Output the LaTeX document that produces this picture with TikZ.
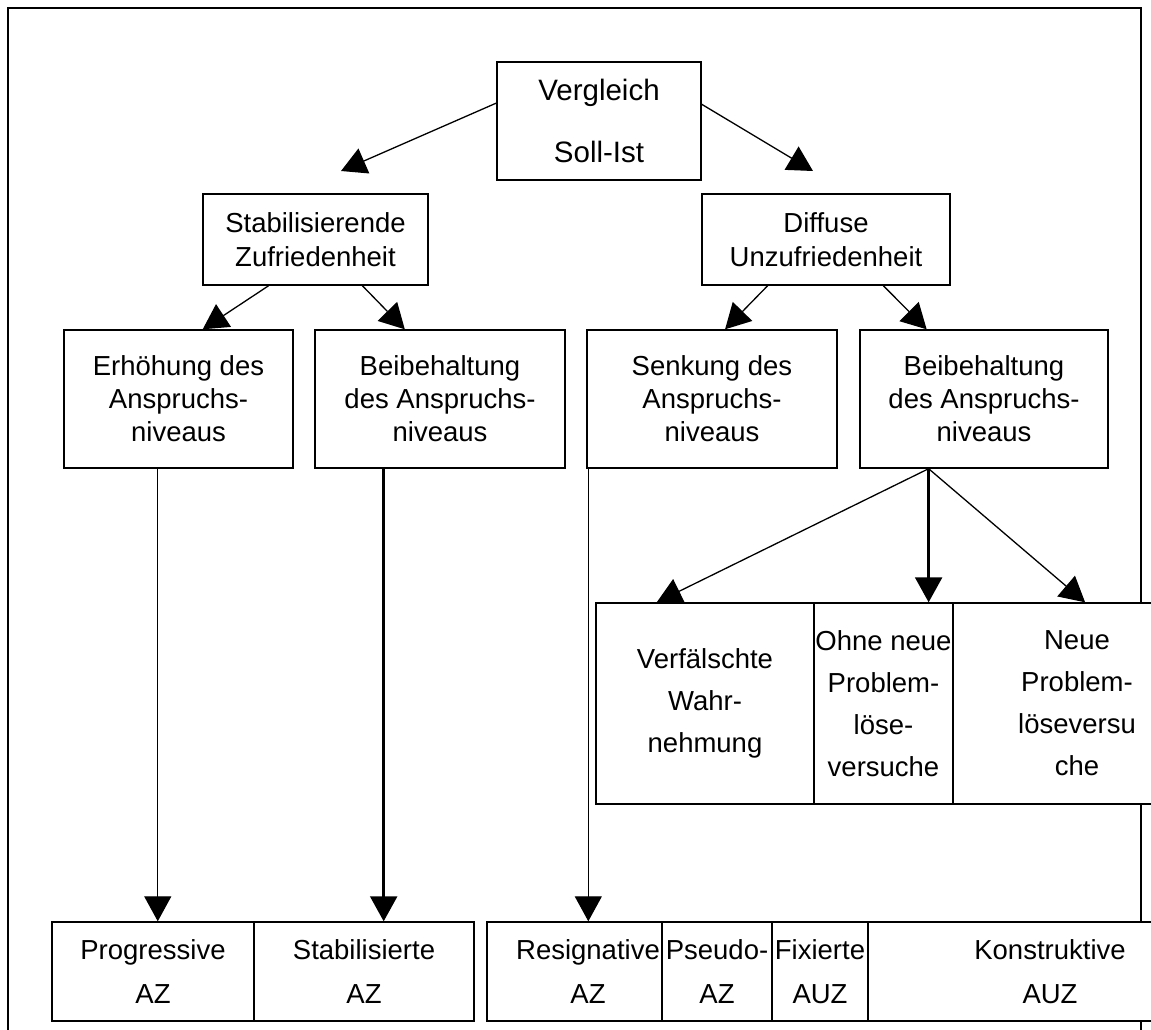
\documentclass[tikz,border=0pt]{standalone}
\usepackage{fontspec}
\setmainfont{Liberation Sans}
\usetikzlibrary{arrows.meta,calc}

% a framed cell (empty node) with its text set as a separate, named node
\newcommand\cellbox[9]{%
  \node[box, minimum width={(#4-#2)*1pt}, minimum height={(#5-#3)*1pt}]
    (#1) at ({(#2+#4)/2},{(#3+#5)/2}) {};
  \node[txt, font=\fontsize{#7}{#8}\selectfont] (#1-t) at ({#6},{(#3+#5)/2}) {#9};}

\begin{document}
\begin{tikzpicture}[x=1pt,y=-1pt,
  box/.style={draw, line width=1.4pt, fill=white, inner sep=0pt},
  txt/.style={inner sep=0pt, align=center},
  conn/.style={line width=1.3pt, -{Triangle[length=25pt,width=27pt]}},
  heavy/.style={conn, line width=2.4pt}]
\useasboundingbox (0,0) rectangle (1151,1030);
\clip (0,0) rectangle (1151,1030);
\fill[white] (0,0) rectangle (1151,1030);

% outer frame
\draw[line width=2.4pt] (8,8) rectangle (1141,1060);

% top
\cellbox{vgl}{497}{62}{701}{180}{599}{29.5}{62}{Vergleich\\Soll-Ist}

% second level
\cellbox{stab}{203}{194}{428}{285}{315.5}{27.5}{34}{Stabilisierende\\Zufriedenheit}
\cellbox{diff}{702}{194}{950}{285}{826}{27.5}{34}{Diffuse\\Unzufriedenheit}

% third level
\cellbox{erh}{64}{330}{293}{468}{178.5}{27.5}{33}{Erhöhung des\\Anspruchs-\\niveaus}
\cellbox{beibl}{315}{330}{565}{468}{440}{27.5}{33}{Beibehaltung\\des Anspruchs-\\niveaus}
\cellbox{senk}{587}{330}{837}{468}{712}{27.5}{33}{Senkung des\\Anspruchs-\\niveaus}
\cellbox{beibr}{860}{330}{1108}{468}{984}{27.5}{33}{Beibehaltung\\des Anspruchs-\\niveaus}

% reactions
\cellbox{verf}{596}{603}{814}{804}{705}{27.5}{42}{Verfälschte\\Wahr-\\nehmung}
\cellbox{ohne}{814}{603}{953}{804}{883.5}{27.5}{42}{Ohne neue\\Problem-\\löse-\\versuche}
\cellbox{neue}{953}{603}{1212}{804}{1077}{27.5}{42}{Neue\\Problem-\\löseversu\\che}

% resulting forms of satisfaction
\cellbox{prog}{52}{922}{254}{1021}{153}{27.5}{44}{Progressive\\AZ}
\cellbox{staz}{254}{922}{474}{1021}{364}{27.5}{44}{Stabilisierte\\AZ}
\cellbox{resig}{487}{922}{662}{1021}{588}{27.5}{44}{Resignative\\AZ}
\cellbox{pseudo}{662}{922}{772}{1021}{717}{27.5}{44}{Pseudo-\\AZ}
\cellbox{fix}{772}{922}{868}{1021}{820}{27.5}{44}{Fixierte\\AUZ}
\cellbox{konstr}{868}{922}{1232}{1021}{1050}{27.5}{44}{Konstruktive\\AUZ}

% free arrow ends above the second level
\coordinate (tl) at (341,171);
\coordinate (tr) at (813,171);

\draw[conn] ($(vgl.north west)!0.35!(vgl.south west)$) -- (tl);
\draw[conn] ($(vgl.north east)!0.36!(vgl.south east)$) -- (tr);

\draw[conn] ($(stab.south west)!0.293!(stab.south east)$) -- ($(erh.north west)!0.605!(erh.north east)$);
\draw[conn] ($(stab.south west)!0.707!(stab.south east)$) -- ($(beibl.north west)!0.36!(beibl.north east)$);
\draw[conn] ($(diff.south west)!0.266!(diff.south east)$) -- ($(senk.north west)!0.552!(senk.north east)$);
\draw[conn] ($(diff.south west)!0.73!(diff.south east)$) -- ($(beibr.north west)!0.27!(beibr.north east)$);

% fan out of the right "Beibehaltung" box
\coordinate (fan) at ($(beibr.south west)!0.278!(beibr.south east)$);
\draw[conn] (fan) -- ($(verf.north west)!0.28!(verf.north east)$);
\draw[heavy] (fan) -- (fan |- ohne.north);
\draw[conn] (fan) -- ($(neue.north west)!0.51!(neue.north east)$);

% long vertical arrows to the bottom row
\coordinate (e1) at ($(erh.south west)!0.41!(erh.south east)$);
\draw[conn] (e1) -- (e1 |- prog.north);
\coordinate (b1) at ($(beibl.south west)!0.276!(beibl.south east)$);
\draw[heavy] (b1) -- (b1 |- staz.north);
\coordinate (s1) at ($(senk.south west)!0.008!(senk.south east)$);
\draw[conn] (s1) -- (s1 |- resig.north);
\end{tikzpicture}
\end{document}
